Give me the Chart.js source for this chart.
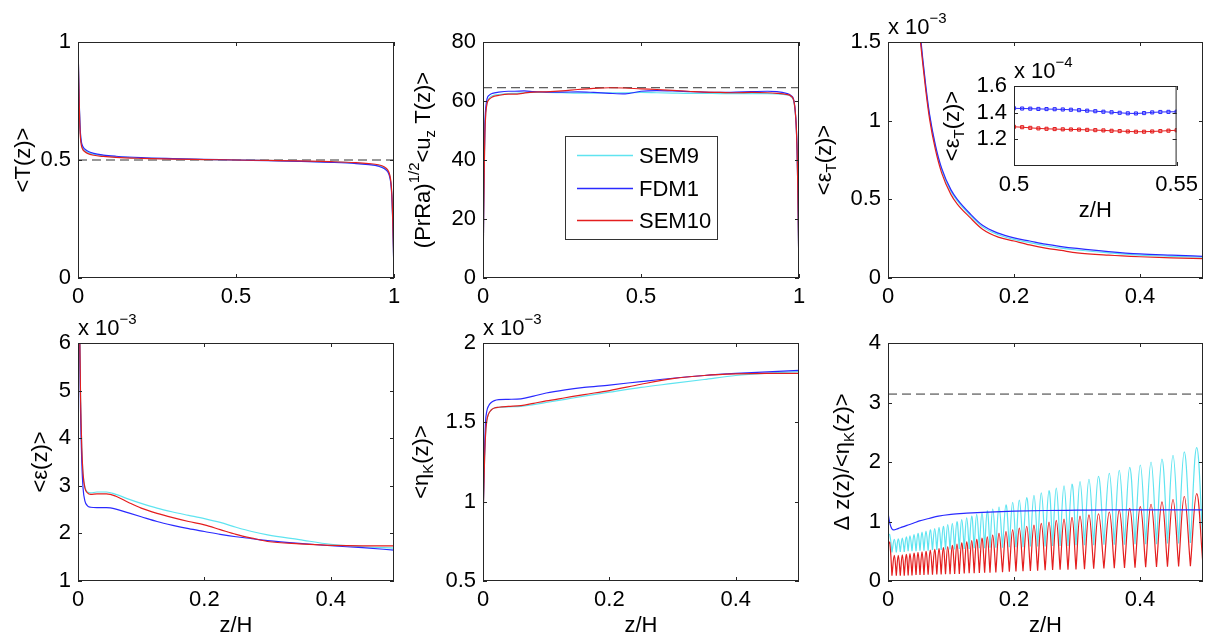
<!DOCTYPE html>
<html><head><meta charset="utf-8">
<script src="https://cdn.jsdelivr.net/npm/chart.js@4.4.1/dist/chart.umd.min.js"></script>
<style>
html,body{margin:0;padding:0;background:#fff;}
body{width:1208px;height:639px;position:relative;overflow:hidden;}
.pane{position:absolute;}
canvas{display:block;}
</style></head><body>
<div class="pane" id="p1"><canvas id="c1"></canvas></div>
<div class="pane" id="p2"><canvas id="c2"></canvas></div>
<div class="pane" id="p3"><canvas id="c3"></canvas></div>
<div class="pane" id="p4"><canvas id="c4"></canvas></div>
<div class="pane" id="p5"><canvas id="c5"></canvas></div>
<div class="pane" id="p6"><canvas id="c6"></canvas></div>
<div class="pane" id="p7"><canvas id="c7"></canvas></div>
<script>
// ---------------- DATA ----------------
const seriesNames = ['SEM9', 'FDM1', 'SEM10'];

// Panel 1: <T(z)>
const zT = [0, 0.002, 0.004, 0.006, 0.008, 0.011, 0.015, 0.02, 0.03, 0.05, 0.08, 0.12, 0.2, 0.3, 0.4, 0.5, 0.6, 0.7, 0.8, 0.88, 0.92, 0.95, 0.97, 0.98, 0.985, 0.989, 0.992, 0.994, 0.996, 0.998, 1];
const T_SEM9  = [1, 0.86, 0.735, 0.65, 0.6, 0.567, 0.551, 0.542, 0.533, 0.524, 0.518, 0.513, 0.508, 0.505, 0.502, 0.5, 0.498, 0.495, 0.492, 0.487, 0.482, 0.477, 0.466, 0.454, 0.44, 0.415, 0.375, 0.325, 0.245, 0.135, 0];
const T_FDM1  = [1, 0.86, 0.74, 0.66, 0.61, 0.575, 0.558, 0.548, 0.538, 0.528, 0.521, 0.516, 0.51, 0.506, 0.503, 0.5, 0.497, 0.494, 0.49, 0.485, 0.48, 0.474, 0.463, 0.45, 0.435, 0.41, 0.37, 0.32, 0.24, 0.13, 0];
const T_SEM10 = [1, 0.86, 0.73, 0.64, 0.59, 0.56, 0.545, 0.537, 0.528, 0.52, 0.515, 0.511, 0.507, 0.504, 0.502, 0.5, 0.498, 0.496, 0.493, 0.489, 0.485, 0.48, 0.47, 0.458, 0.444, 0.42, 0.38, 0.33, 0.25, 0.14, 0];
const T_ref = 0.5;

// Panel 2: (PrRa)^1/2 <u_z T(z)>
const zU = [0, 0.002, 0.004, 0.006, 0.009, 0.013, 0.02, 0.03, 0.05, 0.08, 0.1, 0.13, 0.16, 0.2, 0.25, 0.3, 0.35, 0.4, 0.45, 0.5, 0.55, 0.6, 0.65, 0.7, 0.75, 0.8, 0.85, 0.9, 0.93, 0.96, 0.975, 0.985, 0.991, 0.994, 0.996, 0.998, 1];
const U_SEM9  = [0, 20, 38, 50, 56.5, 59.5, 61.0, 61.8, 62.2, 62.5, 62.6, 62.8, 62.9, 62.9, 62.8, 62.7, 62.7, 62.8, 62.8, 62.9, 62.8, 62.7, 62.6, 62.6, 62.5, 62.5, 62.5, 62.5, 62.4, 62.1, 61.4, 59, 52, 43, 32, 16, 0];
const U_FDM1  = [0, 22, 40, 52, 58, 60.8, 62.0, 62.6, 63.0, 63.3, 63.3, 63.4, 63.2, 63.0, 63.0, 63.1, 62.9, 62.6, 62.4, 63.3, 63.5, 63.4, 63.2, 63.0, 62.9, 63.0, 63.2, 63.3, 63.2, 62.6, 61.8, 59.5, 52, 43, 32, 16, 0];
const U_SEM10 = [0, 20, 37, 49, 56, 59.2, 60.6, 61.4, 61.9, 62.3, 62.3, 62.7, 63.0, 63.1, 63.4, 63.9, 64.3, 64.5, 64.4, 64.1, 63.9, 63.6, 63.3, 63.0, 62.9, 62.8, 62.9, 62.8, 62.6, 62.2, 61.6, 59.3, 52, 43, 32, 16, 0];
const U_ref = 64.5;

// Panel 3: <eps_T(z)> (x 1e-3)
const zET = [0.02, 0.03, 0.04, 0.05, 0.055, 0.06, 0.066, 0.075, 0.085, 0.1, 0.11, 0.13, 0.15, 0.175, 0.2, 0.225, 0.25, 0.275, 0.3, 0.35, 0.4, 0.45, 0.5];
const ET_SEM9  = [4.45, 2.88, 2.03, 1.58, 1.39, 1.21, 1.03, 0.84, 0.69, 0.55, 0.49, 0.4, 0.325, 0.275, 0.245, 0.225, 0.205, 0.19, 0.178, 0.16, 0.145, 0.138, 0.132];
const ET_FDM1  = [4.5, 2.9, 2.05, 1.6, 1.4, 1.22, 1.04, 0.85, 0.7, 0.56, 0.5, 0.41, 0.335, 0.285, 0.255, 0.235, 0.215, 0.2, 0.188, 0.168, 0.153, 0.145, 0.138];
const ET_SEM10 = [4.4, 2.85, 2.0, 1.56, 1.37, 1.19, 1.01, 0.82, 0.67, 0.53, 0.47, 0.385, 0.31, 0.26, 0.235, 0.21, 0.19, 0.175, 0.16, 0.145, 0.135, 0.128, 0.123];

// Inset: <eps_T(z)> (x 1e-4)
const zIn = [0.5, 0.5025, 0.505, 0.5075, 0.51, 0.5125, 0.515, 0.5175, 0.52, 0.5225, 0.525, 0.5275, 0.53, 0.5325, 0.535, 0.5375, 0.54, 0.5425, 0.545, 0.5475, 0.55];
const In_FDM1  = [1.433, 1.431, 1.430, 1.428, 1.427, 1.426, 1.424, 1.422, 1.419, 1.415, 1.411, 1.407, 1.403, 1.399, 1.395, 1.394, 1.397, 1.402, 1.405, 1.406, 1.407];
const In_SEM10 = [1.294, 1.291, 1.286, 1.282, 1.279, 1.277, 1.275, 1.274, 1.273, 1.271, 1.269, 1.267, 1.264, 1.262, 1.259, 1.257, 1.257, 1.259, 1.262, 1.265, 1.268];

// Panel 4: <eps(z)> (x 1e-3)
const zD = [0, 0.002, 0.004, 0.006, 0.008, 0.011, 0.015, 0.02, 0.03, 0.045, 0.06, 0.08, 0.1, 0.125, 0.15, 0.175, 0.2, 0.225, 0.25, 0.275, 0.3, 0.35, 0.4, 0.45, 0.5];
const D_SEM9  = [9, 7, 4.9, 3.8, 3.25, 2.97, 2.87, 2.85, 2.87, 2.87, 2.82, 2.72, 2.63, 2.53, 2.45, 2.38, 2.31, 2.23, 2.13, 2.04, 1.97, 1.87, 1.77, 1.72, 1.69];
const D_FDM1  = [9, 6.8, 4.6, 3.5, 2.95, 2.68, 2.58, 2.55, 2.54, 2.54, 2.51, 2.43, 2.35, 2.25, 2.17, 2.1, 2.04, 1.98, 1.93, 1.89, 1.85, 1.79, 1.74, 1.7, 1.65];
const D_SEM10 = [9, 7, 4.9, 3.8, 3.25, 2.95, 2.85, 2.82, 2.83, 2.83, 2.78, 2.65, 2.53, 2.42, 2.33, 2.25, 2.18, 2.08, 1.98, 1.9, 1.83, 1.78, 1.75, 1.74, 1.74];

// Panel 5: <eta_K(z)> (x 1e-3)
const zK = [0, 0.002, 0.004, 0.006, 0.009, 0.013, 0.018, 0.025, 0.04, 0.06, 0.08, 0.1, 0.13, 0.16, 0.2, 0.25, 0.3, 0.35, 0.4, 0.45, 0.5];
const K_SEM9  = [0.85, 1.2, 1.42, 1.51, 1.555, 1.578, 1.59, 1.595, 1.598, 1.6, 1.612, 1.625, 1.645, 1.665, 1.69, 1.72, 1.745, 1.77, 1.795, 1.81, 1.82];
const K_FDM1  = [0.88, 1.25, 1.5, 1.57, 1.605, 1.625, 1.637, 1.643, 1.645, 1.648, 1.665, 1.685, 1.705, 1.72, 1.735, 1.757, 1.778, 1.795, 1.808, 1.818, 1.827];
const K_SEM10 = [0.85, 1.2, 1.42, 1.51, 1.555, 1.578, 1.59, 1.595, 1.6, 1.605, 1.62, 1.635, 1.655, 1.675, 1.7, 1.74, 1.775, 1.795, 1.805, 1.808, 1.808];

// Panel 6: Delta z / <eta_K>
const zR = [0, 0.002, 0.004, 0.006, 0.008, 0.01, 0.013, 0.017, 0.022, 0.03, 0.04, 0.05, 0.065, 0.08, 0.1, 0.125, 0.15, 0.2, 0.25, 0.3, 0.35, 0.4, 0.45, 0.5];
const R_FDM1 = [1.15, 1.02, 0.93, 0.88, 0.86, 0.86, 0.87, 0.885, 0.905, 0.935, 0.97, 1.01, 1.05, 1.09, 1.12, 1.14, 1.155, 1.175, 1.185, 1.19, 1.195, 1.195, 1.195, 1.195];
// spectral element edges and element-centre positions
const elemEdgeZ = [0, 0.0063, 0.0132, 0.0195, 0.0258, 0.0320, 0.0381, 0.0445, 0.0508, 0.0571, 0.0637, 0.0706, 0.0775, 0.0844, 0.0913, 0.0985, 0.1058, 0.1132, 0.1210, 0.1289, 0.1368, 0.1450, 0.1534, 0.1619, 0.1712, 0.1818, 0.1926, 0.2031, 0.2143, 0.2260, 0.2375, 0.2494, 0.2613, 0.2732, 0.2857, 0.2984, 0.3119, 0.3265, 0.3427, 0.3592, 0.3754, 0.3921, 0.4090, 0.4262, 0.4436, 0.4613, 0.4800, 0.5];
const elemPeakZ = [0.0027, 0.0100, 0.0163, 0.0227, 0.0290, 0.0349, 0.0413, 0.0476, 0.0540, 0.0603, 0.0671, 0.0741, 0.0810, 0.0878, 0.0948, 0.1021, 0.1095, 0.1170, 0.1249, 0.1329, 0.1408, 0.1492, 0.1576, 0.1662, 0.1762, 0.1873, 0.1979, 0.2084, 0.2202, 0.2317, 0.2433, 0.2556, 0.2671, 0.2794, 0.2921, 0.3048, 0.3190, 0.3341, 0.3513, 0.3671, 0.3837, 0.4005, 0.4175, 0.4349, 0.4524, 0.4703, 0.4900];
const R_SEM10_edge = [0.62, 0.09, 0.09, 0.09, 0.09, 0.095, 0.095, 0.10, 0.10, 0.10, 0.105, 0.105, 0.11, 0.11, 0.115, 0.115, 0.12, 0.12, 0.125, 0.13, 0.13, 0.135, 0.14, 0.14, 0.145, 0.15, 0.155, 0.16, 0.165, 0.17, 0.175, 0.18, 0.185, 0.19, 0.19, 0.195, 0.20, 0.205, 0.21, 0.215, 0.22, 0.225, 0.23, 0.235, 0.24, 0.245, 0.25, 0.26];
const R_SEM10_peak = [0.65, 0.43, 0.43, 0.44, 0.45, 0.46, 0.47, 0.48, 0.49, 0.50, 0.52, 0.53, 0.55, 0.56, 0.58, 0.60, 0.62, 0.64, 0.66, 0.68, 0.70, 0.72, 0.74, 0.77, 0.80, 0.83, 0.86, 0.89, 0.92, 0.94, 0.97, 0.99, 1.02, 1.04, 1.07, 1.09, 1.11, 1.13, 1.16, 1.19, 1.22, 1.25, 1.29, 1.33, 1.37, 1.42, 1.47];
const R_SEM9_edge = [0.78, 0.48, 0.48, 0.49, 0.49, 0.5, 0.5, 0.5, 0.51, 0.51, 0.51, 0.52, 0.52, 0.52, 0.53, 0.53, 0.53, 0.54, 0.54, 0.54, 0.55, 0.55, 0.55, 0.56, 0.56, 0.56, 0.57, 0.57, 0.57, 0.58, 0.58, 0.58, 0.59, 0.59, 0.59, 0.6, 0.6, 0.6, 0.61, 0.61, 0.61, 0.62, 0.62, 0.62, 0.63, 0.63, 0.64, 0.64];
const R_SEM9_peak = [0.78, 0.70, 0.71, 0.72, 0.74, 0.76, 0.78, 0.80, 0.82, 0.84, 0.86, 0.88, 0.90, 0.92, 0.95, 0.97, 1.00, 1.03, 1.06, 1.09, 1.12, 1.15, 1.18, 1.21, 1.24, 1.28, 1.32, 1.36, 1.40, 1.44, 1.48, 1.52, 1.56, 1.60, 1.63, 1.67, 1.71, 1.76, 1.81, 1.86, 1.91, 1.95, 2.00, 2.05, 2.11, 2.17, 2.24];
const R_ref = 3.1416;

// Tick values
const ticksX01 = [0, 0.5, 1];
const ticksX05 = [0, 0.2, 0.4];
const ticksY_T = [0, 0.5, 1];
const ticksY_U = [0, 20, 40, 60, 80];
const ticksY_ET = [0, 0.5, 1, 1.5];
const ticksY_D = [1, 2, 3, 4, 5, 6];
const ticksY_K = [0.5, 1, 1.5, 2];
const ticksY_R = [0, 1, 2, 3, 4];
const ticksX_In = [0.5, 0.55];
const ticksY_In = [1.2, 1.4, 1.6];

// ---------------- STYLE / RENDER ----------------
const FONT = '"Liberation Sans", Arial, Helvetica, sans-serif';
const FS = 22, FS_SMALL = 15;
const PL = 90, PT = 36, PR = 26, PB = 60;
const colors = { SEM9: 'rgb(95,228,240)', FDM1: '#2a2aff', SEM10: '#e41e1e' };
const lightColors = { FDM1: 'rgba(80,80,255,0.35)', SEM10: 'rgba(235,40,40,0.35)' };

function pts(xs, ys) { return xs.map((x, i) => ({ x: x, y: ys[i] })); }
function arcs(edgeZ, peakZ, edgeY, peakY) {
  const out = [];
  for (let i = 0; i < peakZ.length; i++) {
    out.push({ x: edgeZ[i], y: edgeY[i] }, { x: peakZ[i], y: peakY[i] }, { x: edgeZ[i + 1], y: edgeY[i + 1] }, { x: edgeZ[i + 1], y: null });
  }
  return out;
}
function line(name, data, order, extra) {
  return Object.assign({ label: name, data: data, borderColor: colors[name], borderWidth: 1.2, pointRadius: 0,
    fill: false, cubicInterpolationMode: 'monotone', order: order }, extra || {});
}
function dash(val, xr) {
  return { label: '', data: [{ x: xr[0], y: val }, { x: xr[1], y: val }], borderColor: '#333', borderWidth: 1,
    borderDash: [9, 5], pointRadius: 0, fill: false, order: 9 };
}

function drawRich(c, segs, x, y, rotate, align) {
  c.save(); c.translate(x, y); if (rotate) c.rotate(-Math.PI / 2);
  c.fillStyle = '#000'; c.textBaseline = 'alphabetic'; c.textAlign = 'left';
  const parts = segs.map(s => { const m = s[1] || 0; const f = m ? FS_SMALL : FS; c.font = f + 'px ' + FONT; return { t: s[0], m: m, f: f, w: c.measureText(s[0]).width }; });
  const total = parts.reduce((a, p) => a + p.w, 0);
  let cx = align === 'left' ? 0 : -total / 2;
  const base = 8;
  parts.forEach(p => { c.font = p.f + 'px ' + FONT; const dy = p.m === 1 ? base + 5 : p.m === 2 ? base - 11 : base; c.fillText(p.t, cx, dy); cx += p.w; });
  c.restore();
}

const deco = {
  id: 'deco',
  beforeDatasetsDraw(chart, args, o) {
    if (o.fillArea) { const a = chart.chartArea, c = chart.ctx; c.save(); c.fillStyle = '#fff'; c.fillRect(a.left, a.top, a.right - a.left, a.bottom - a.top); c.restore(); }
  },
  afterDatasetsDraw(chart, args, o) {
    const c = chart.ctx, a = chart.chartArea, L = 4;
    c.save();
    c.strokeStyle = '#262626'; c.lineWidth = 1;
    c.strokeRect(a.left + 0.5, a.top + 0.5, a.right - a.left - 1, a.bottom - a.top - 1);
    const xs = chart.scales.x, ys = chart.scales.y;
    c.beginPath();
    xs.ticks.forEach(t => { const p = Math.round(xs.getPixelForValue(t.value)) + 0.5; c.moveTo(p, a.bottom); c.lineTo(p, a.bottom - L); c.moveTo(p, a.top); c.lineTo(p, a.top + L); });
    ys.ticks.forEach(t => { const p = Math.round(ys.getPixelForValue(t.value)) + 0.5; c.moveTo(a.left, p); c.lineTo(a.left + L, p); c.moveTo(a.right, p); c.lineTo(a.right - L, p); });
    c.stroke();
    c.restore();
  },
  afterDraw(chart, args, o) {
    const c = chart.ctx, a = chart.chartArea;
    if (o.ytitle) drawRich(c, o.ytitle, a.left + o.yoff, (a.top + a.bottom) / 2, true, 'center');
    if (o.xtitle) drawRich(c, [[o.xtitle]], (a.left + a.right) / 2, a.bottom + 43, false, 'center');
    if (o.exp) drawRich(c, [['x 10'], [o.exp, 2]], a.left, a.top - 16, false, 'left');
    if (o.legend) {
      const g = o.legend, x0 = a.left + g.dx, y0 = a.top + g.dy;
      c.save();
      c.fillStyle = '#fff'; c.fillRect(x0, y0, g.w, g.h);
      c.strokeStyle = '#333'; c.lineWidth = 1; c.strokeRect(x0 + 0.5, y0 + 0.5, g.w, g.h);
      const items = chart.data.datasets.filter(d => d.label);
      items.forEach((d, i) => {
        const yy = Math.round(y0 + g.row0 + i * g.rowStep) + 0.5;
        c.strokeStyle = d.borderColor; c.lineWidth = 1.4;
        c.beginPath(); c.moveTo(x0 + 12, yy); c.lineTo(x0 + 68, yy); c.stroke();
        c.fillStyle = '#000'; c.font = FS + 'px ' + FONT; c.textBaseline = 'middle'; c.textAlign = 'left';
        c.fillText(d.label, x0 + 74, yy + 1);
      });
      c.restore();
    }
  }
};

function makeChart(cfg) {
  const [l, t, w, h] = cfg.rect;
  const pane = document.getElementById(cfg.pane);
  const W = w + PL + PR, H = h + PT + PB;
  pane.style.left = (l - PL) + 'px'; pane.style.top = (t - PT) + 'px';
  pane.style.width = W + 'px'; pane.style.height = H + 'px';
  const cv = document.getElementById(cfg.canvas);
  cv.width = W; cv.height = H; cv.style.width = W + 'px'; cv.style.height = H + 'px';
  const tickFmt = v => String(+(+v).toFixed(4));
  const scaleBase = (range, tv, isX) => ({
    type: 'linear', min: range[0], max: range[1],
    grid: { display: false, drawTicks: false }, border: { display: false },
    ticks: { font: { family: FONT, size: FS }, color: '#000', padding: isX ? 6 : 7, maxRotation: 0, minRotation: 0, autoSkip: false, callback: tickFmt },
    afterBuildTicks: s => { s.ticks = tv.map(v => ({ value: v })); },
    afterFit: s => { if (isX) s.height = PB; else s.width = PL; }
  });
  return new Chart(cv, {
    type: 'line',
    data: { datasets: cfg.datasets },
    options: {
      responsive: false, animation: false, events: [],
      layout: { padding: { left: 0, right: PR, top: PT, bottom: 0 } },
      plugins: { legend: { display: false }, tooltip: { enabled: false }, deco: cfg.deco },
      scales: { x: scaleBase(cfg.x, cfg.xt, true), y: scaleBase(cfg.y, cfg.yt, false) }
    },
    plugins: [deco]
  });
}

Chart.defaults.color = '#000';

// Panel 1
makeChart({ pane: 'p1', canvas: 'c1', rect: [78, 42, 316, 236], x: [0, 1], y: [0, 1], xt: ticksX01, yt: ticksY_T,
  datasets: [line('SEM9', pts(zT, T_SEM9), 2), line('FDM1', pts(zT, T_FDM1), 1), line('SEM10', pts(zT, T_SEM10), 0), dash(T_ref, [0, 1])],
  deco: { ytitle: [['<T(z)>']], yoff: -56 } });

// Panel 2
makeChart({ pane: 'p2', canvas: 'c2', rect: [483, 42, 316, 236], x: [0, 1], y: [0, 80], xt: ticksX01, yt: ticksY_U,
  datasets: [line('SEM9', pts(zU, U_SEM9), 2), line('FDM1', pts(zU, U_FDM1), 1), line('SEM10', pts(zU, U_SEM10), 0), dash(U_ref, [0, 1])],
  deco: { ytitle: [['(PrRa)'], ['1/2', 2], ['<u'], ['z', 1], [' T(z)>']], yoff: -61,
          legend: { dx: 82, dy: 94, w: 152, h: 103, row0: 19, rowStep: 32.5 } } });

// Panel 3
makeChart({ pane: 'p3', canvas: 'c3', rect: [888, 42, 315, 236], x: [0, 0.5], y: [0, 1.5], xt: ticksX05, yt: ticksY_ET,
  datasets: [line('SEM9', pts(zET, ET_SEM9), 2), line('FDM1', pts(zET, ET_FDM1), 1), line('SEM10', pts(zET, ET_SEM10), 0)],
  deco: { ytitle: [['<ε'], ['T', 1], ['(z)>']], yoff: -65, exp: '−3' } });

// Panel 4
makeChart({ pane: 'p4', canvas: 'c4', rect: [78, 343, 316, 238], x: [0, 0.5], y: [1, 6], xt: ticksX05, yt: ticksY_D,
  datasets: [line('SEM9', pts(zD, D_SEM9), 2), line('FDM1', pts(zD, D_FDM1), 1), line('SEM10', pts(zD, D_SEM10), 0)],
  deco: { ytitle: [['<ε(z)>']], yoff: -39, exp: '−3', xtitle: 'z/H' } });

// Panel 5
makeChart({ pane: 'p5', canvas: 'c5', rect: [483, 343, 316, 238], x: [0, 0.5], y: [0.5, 2], xt: ticksX05, yt: ticksY_K,
  datasets: [line('SEM9', pts(zK, K_SEM9), 2), line('FDM1', pts(zK, K_FDM1), 1), line('SEM10', pts(zK, K_SEM10), 0)],
  deco: { ytitle: [['<η'], ['K', 1], ['(z)>']], yoff: -63, exp: '−3', xtitle: 'z/H' } });

// Panel 6
makeChart({ pane: 'p6', canvas: 'c6', rect: [888, 343, 315, 238], x: [0, 0.5], y: [0, 4], xt: ticksX05, yt: ticksY_R,
  datasets: [
    line('SEM9', arcs(elemEdgeZ, elemPeakZ, R_SEM9_edge, R_SEM9_peak), 2, { cubicInterpolationMode: 'default', tension: 0.4, spanGaps: false }),
    line('FDM1', pts(zR, R_FDM1), 0),
    line('SEM10', arcs(elemEdgeZ, elemPeakZ, R_SEM10_edge, R_SEM10_peak), 1, { cubicInterpolationMode: 'default', tension: 0.4, spanGaps: false }),
    dash(R_ref, [0, 0.5])],
  deco: { ytitle: [['Δ z(z)/<η'], ['K', 1], ['(z)>']], yoff: -47, xtitle: 'z/H' } });

// Inset
makeChart({ pane: 'p7', canvas: 'c7', rect: [1014, 86, 164, 80], x: [0.5, 0.55], y: [1.0, 1.6], xt: ticksX_In, yt: ticksY_In,
  datasets: [
    line('FDM1', pts(zIn, In_FDM1), 0, { pointStyle: 'rect', pointRadius: 2.2, pointBorderWidth: 1, pointBorderColor: colors.FDM1, pointBackgroundColor: lightColors.FDM1, cubicInterpolationMode: 'default', borderWidth: 1 }),
    line('SEM10', pts(zIn, In_SEM10), 1, { pointStyle: 'rect', pointRadius: 2.2, pointBorderWidth: 1, pointBorderColor: colors.SEM10, pointBackgroundColor: lightColors.SEM10, cubicInterpolationMode: 'default', borderWidth: 1 })],
  deco: { ytitle: [['<ε'], ['T', 1], ['(z)>']], yoff: -63, exp: '−4', xtitle: 'z/H', fillArea: true } });
</script>
</body></html>
